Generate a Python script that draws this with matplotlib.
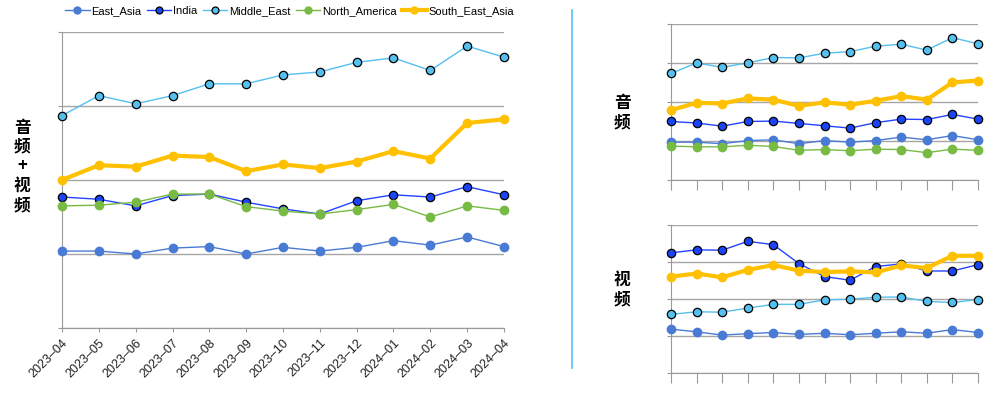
import matplotlib.pyplot as plt
from matplotlib.lines import Line2D

plt.rcParams['font.family'] = ['Liberation Sans', 'Noto Sans CJK SC', 'DejaVu Sans']

months = ['2023–04', '2023–05', '2023–06', '2023–07', '2023–08', '2023–09', '2023–10',
          '2023–11', '2023–12', '2024–01', '2024–02', '2024–03', '2024–04']

# audio + video (left panel)
total_east_asia = [1.04, 1.04, 1.00, 1.08, 1.10, 1.00, 1.09, 1.04, 1.09, 1.18, 1.12, 1.23, 1.10]
total_india = [1.77, 1.74, 1.65, 1.79, 1.81, 1.70, 1.61, 1.54, 1.72, 1.80, 1.77, 1.91, 1.80]
total_middle_east = [2.87, 3.14, 3.03, 3.14, 3.30, 3.30, 3.42, 3.46, 3.59, 3.65, 3.48, 3.81, 3.66]
total_north_america = [1.65, 1.66, 1.70, 1.81, 1.81, 1.64, 1.58, 1.54, 1.60, 1.67, 1.50, 1.65, 1.59]
total_sea = [2.00, 2.20, 2.18, 2.33, 2.31, 2.12, 2.21, 2.16, 2.25, 2.39, 2.29, 2.77, 2.82]

# audio (top right)
audio_east_asia = [0.97, 0.97, 0.93, 1.01, 1.03, 0.93, 1.01, 0.97, 1.01, 1.10, 1.03, 1.14, 1.03]
audio_india = [1.50, 1.46, 1.38, 1.50, 1.51, 1.45, 1.39, 1.33, 1.47, 1.56, 1.55, 1.68, 1.56]
audio_middle_east = [2.73, 3.00, 2.89, 3.00, 3.14, 3.13, 3.25, 3.29, 3.43, 3.48, 3.33, 3.65, 3.49]
audio_north_america = [0.87, 0.85, 0.85, 0.89, 0.86, 0.76, 0.78, 0.75, 0.79, 0.78, 0.70, 0.79, 0.76]
audio_sea = [1.79, 1.98, 1.96, 2.09, 2.06, 1.90, 1.99, 1.93, 2.03, 2.15, 2.06, 2.50, 2.55]

# video (bottom right)
video_east_asia = [1.19, 1.12, 1.03, 1.07, 1.10, 1.05, 1.08, 1.04, 1.08, 1.12, 1.08, 1.18, 1.10]
video_india = [3.25, 3.33, 3.32, 3.56, 3.47, 2.96, 2.61, 2.51, 2.88, 2.95, 2.76, 2.76, 2.93]
video_middle_east = [1.59, 1.66, 1.65, 1.76, 1.86, 1.86, 1.98, 2.00, 2.05, 2.06, 1.94, 1.91, 1.99]
video_sea = [2.61, 2.69, 2.59, 2.79, 2.92, 2.77, 2.73, 2.75, 2.72, 2.91, 2.84, 3.17, 3.17]

names = ['East_Asia', 'India', 'Middle_East', 'North_America', 'South_East_Asia']
styles = {
    'East_Asia': dict(color='#4a7bd4', lw=1.0, marker='o', ms=6, mfc='#4a7bd4', mec='#4a7bd4'),
    'India': dict(color='#2244ff', lw=1.0, marker='o', ms=6, mfc='#1a44f5', mec='black', mew=0.9),
    'Middle_East': dict(color='#55bfee', lw=1.0, marker='o', ms=6, mfc='#55bfee', mec='black', mew=0.9),
    'North_America': dict(color='#77bb44', lw=1.0, marker='o', ms=6, mfc='#77bb44', mec='#77bb44'),
    'South_East_Asia': dict(color='#ffc000', lw=3.0, marker='o', ms=6, mfc='#ffc000', mec='#ffc000'),
}

fig = plt.figure(figsize=(10, 3.96), dpi=100)


def style_axes(ax, ticklen, show_labels):
    x = list(range(len(months)))
    ax.set_xlim(0, len(months) - 1)
    ax.set_ylim(0, 4)
    ax.set_yticks([0, 1, 2, 3, 4])
    ax.set_yticklabels([])
    ax.grid(axis='y', color='#a6a6a6', lw=1.0)
    ax.set_axisbelow(True)
    for s in ['top', 'right']:
        ax.spines[s].set_visible(False)
    ax.spines['left'].set_color('#999999')
    ax.spines['bottom'].set_color('#999999')
    ax.tick_params(axis='y', length=3, color='#999999')
    ax.tick_params(axis='x', length=ticklen, color='#999999')
    ax.set_xticks(x)
    if show_labels:
        ax.set_xticklabels(months, rotation=45, ha='right', rotation_mode='anchor',
                           fontsize=9, color='#222222')
    else:
        ax.set_xticklabels([])


def draw(ax, series):
    x = list(range(len(months)))
    for name, vals in series:
        ax.plot(x, vals, **styles[name], clip_on=False, zorder=3)


ax1 = fig.add_axes([0.062, 0.1717, 0.442, 0.7475])
style_axes(ax1, 3, True)
draw(ax1, [('East_Asia', total_east_asia), ('India', total_india),
           ('Middle_East', total_middle_east), ('North_America', total_north_america),
           ('South_East_Asia', total_sea)])

ax2 = fig.add_axes([0.671, 0.5455, 0.307, 0.394])
style_axes(ax2, 7, False)
draw(ax2, [('East_Asia', audio_east_asia), ('India', audio_india),
           ('Middle_East', audio_middle_east), ('North_America', audio_north_america),
           ('South_East_Asia', audio_sea)])

ax3 = fig.add_axes([0.671, 0.0573, 0.307, 0.3745])
style_axes(ax3, 7, False)
draw(ax3, [('East_Asia', video_east_asia), ('India', video_india),
           ('Middle_East', video_middle_east), ('South_East_Asia', video_sea)])

# legend
handles = []
for name in names:
    st = dict(styles[name])
    st['ms'] = 5
    handles.append(Line2D([], [], **st))
fig.legend(handles, names, loc='center', bbox_to_anchor=(0.2895, 0.972), ncol=5,
           frameon=False, fontsize=8.0, handlelength=2.2, handletextpad=0.15,
           columnspacing=0.5)

# side labels
fig.text(0.022, 0.58, '音\n频\n+\n视\n频', ha='center', va='center', fontsize=12,
         fontweight='bold', linespacing=1.1, family=['Noto Sans CJK SC', 'DejaVu Sans'])
fig.text(0.622, 0.715, '音\n频', ha='center', va='center', fontsize=12,
         fontweight='bold', linespacing=1.1, family=['Noto Sans CJK SC', 'DejaVu Sans'])
fig.text(0.622, 0.268, '视\n频', ha='center', va='center', fontsize=12,
         fontweight='bold', linespacing=1.1, family=['Noto Sans CJK SC', 'DejaVu Sans'])

# divider line
fig.add_artist(Line2D([0.5717, 0.5717], [1 - 10 / 396, 1 - 368 / 396],
                      transform=fig.transFigure, color='#4fc3f7', lw=1.2))

fig.savefig('out.png', dpi=100)
